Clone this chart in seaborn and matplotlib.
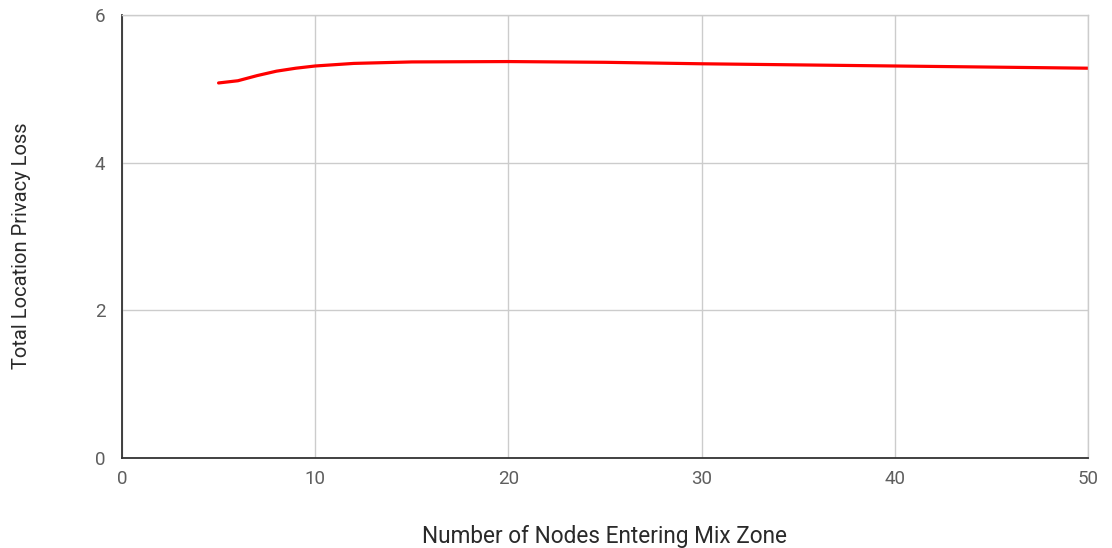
import numpy as np
import pandas as pd
import matplotlib
matplotlib.use("Agg")
import matplotlib.pyplot as plt
import seaborn as sns

# values
nodes = [5, 6, 7, 8, 9, 10, 12, 15, 20, 25, 30, 35, 40, 45, 50]
privacy_loss = [5.08, 5.11, 5.18, 5.24, 5.28, 5.31, 5.345, 5.365, 5.37, 5.36, 5.34, 5.325, 5.31, 5.295, 5.28]

x_ticks = [0, 10, 20, 30, 40, 50]
y_ticks = [0, 2, 4, 6]

sns.set_style("white")
plt.rcParams['font.family'] = ['Roboto', 'DejaVu Sans']

df = pd.DataFrame({"nodes": nodes, "loss": privacy_loss})

fig = plt.figure(figsize=(11.12, 5.48), dpi=100)
ax = fig.add_axes([0.1097, 0.1645, 0.8686, 0.808])

sns.lineplot(data=df, x="nodes", y="loss", color="#ff0000", linewidth=2.3, ax=ax)

ax.set_xlim(0, 50)
ax.set_ylim(0, 6)
ax.set_xticks(x_ticks)
ax.set_yticks(y_ticks)
ax.grid(True, color="#cccccc", linewidth=1)
ax.set_axisbelow(True)

for side in ["top", "right"]:
    ax.spines[side].set_color("#cccccc")
    ax.spines[side].set_linewidth(1)
for side in ["left", "bottom"]:
    ax.spines[side].set_color("#333333")
    ax.spines[side].set_linewidth(1.3)

ax.tick_params(axis="both", length=0, labelsize=13.5, labelcolor="#5e5e5e")
ax.tick_params(axis="x", pad=9)
ax.tick_params(axis="y", pad=12)

ax.set_xlabel("Number of Nodes Entering Mix Zone", fontsize=16.3, color="#2a2a2a")
ax.set_ylabel("Total Location Privacy Loss", fontsize=14.5, color="#2a2a2a")
ax.xaxis.set_label_coords(0.5, -0.152)
ax.yaxis.set_label_coords(-0.094, 0.478)

fig.savefig("out.png", dpi=100)
